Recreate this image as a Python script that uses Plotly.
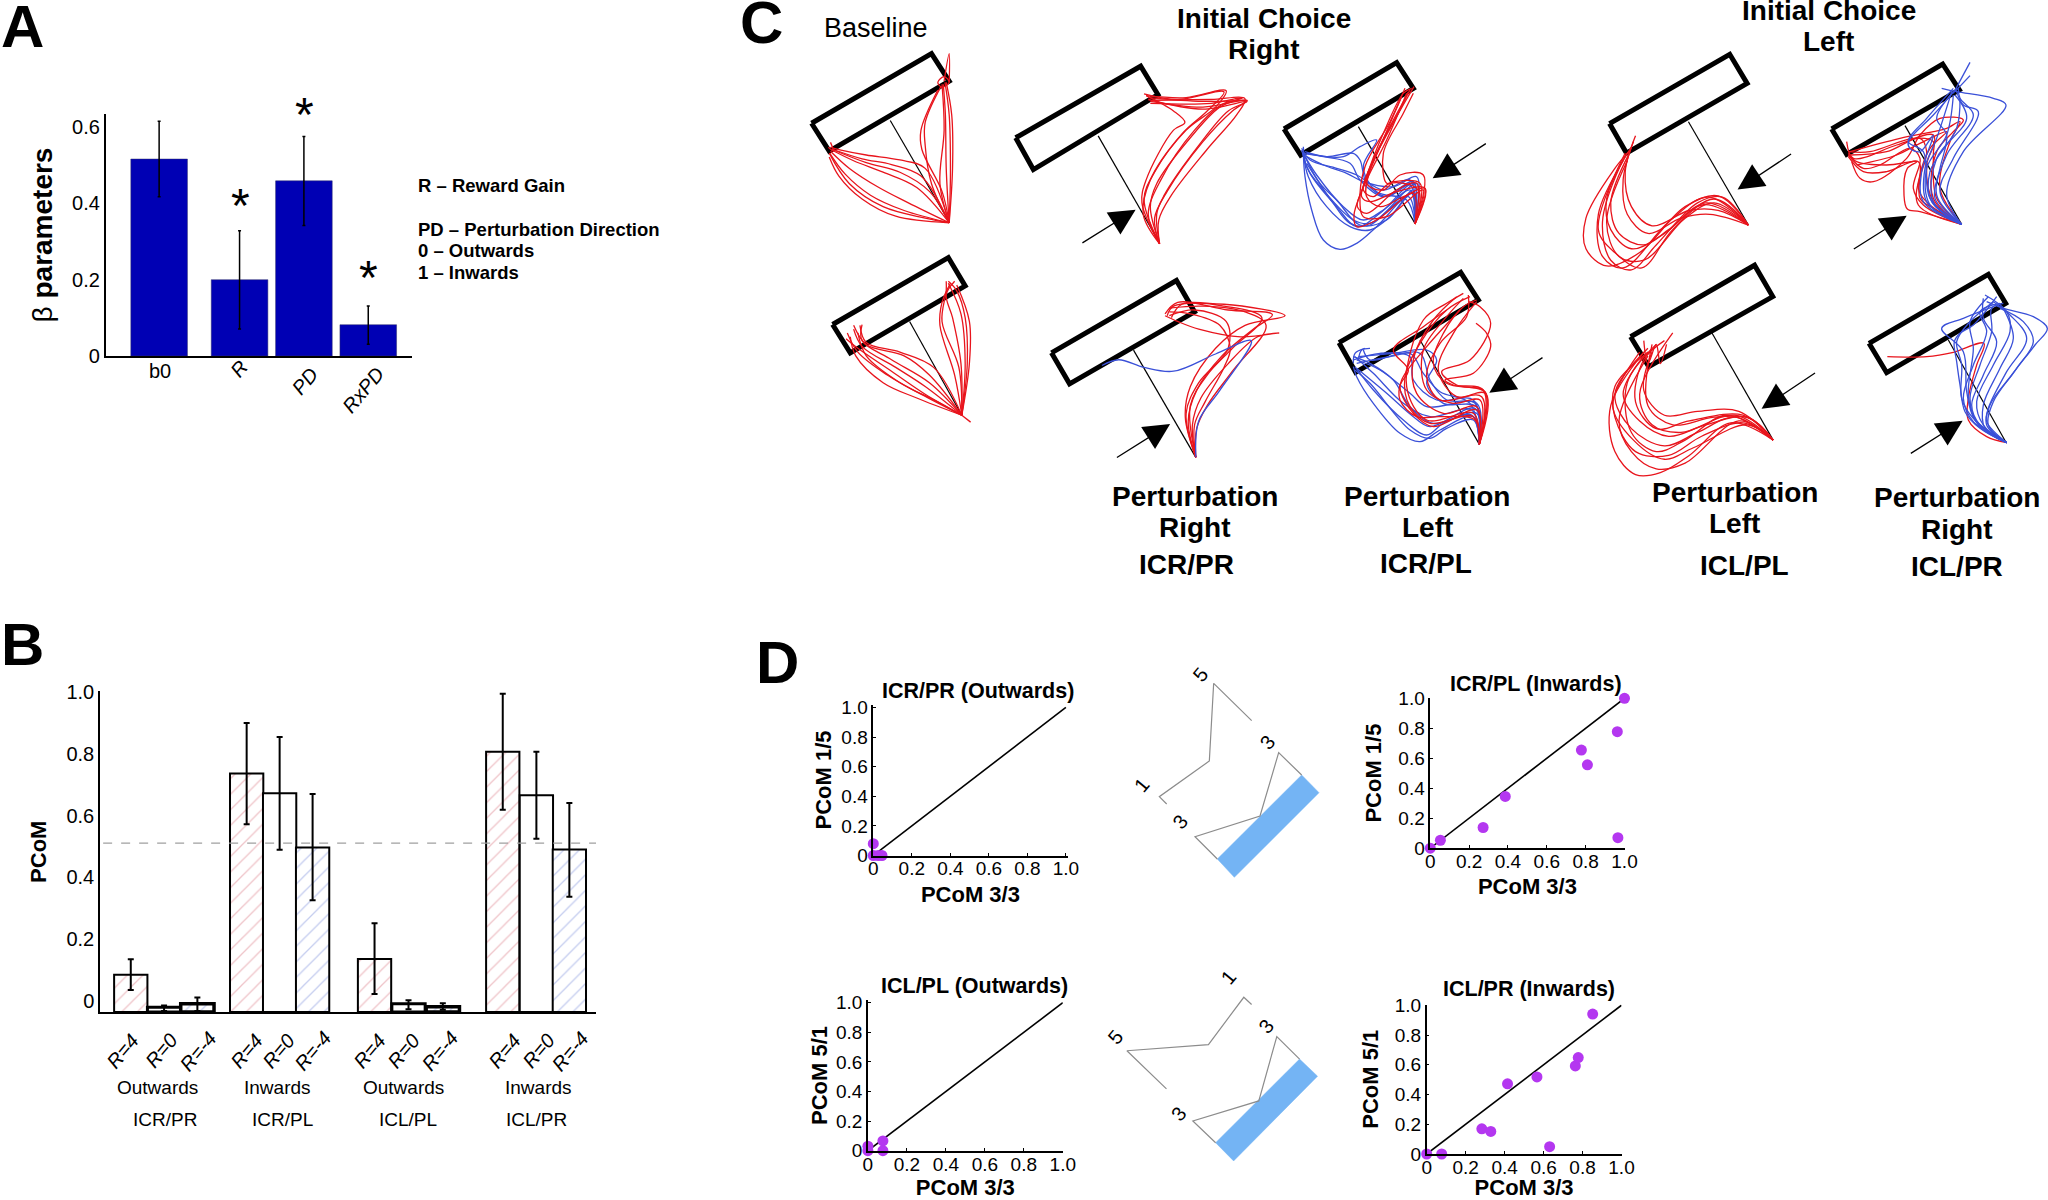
import plotly.graph_objects as go

W, H = 2048, 1200
FONT = "Liberation Sans"
RED = "#e8141c"
BLUE = "#3a50d8"

# ---------- Panel A ----------
a_cats = ["b0", "R", "PD", "RxPD"]
a_x = [0, 1.25, 2.25, 3.25]
a_vals = [0.516, 0.200, 0.459, 0.082]
a_upper = [0.615, 0.328, 0.575, 0.131]
a_lower = [0.417, 0.071, 0.342, 0.031]
a_star_x = [240, 304, 368]
a_star_y = [205, 114, 277]
a_ticks = [0, 0.2, 0.4, 0.6]
a_ticktext = ["0", "0.2", "0.4", "0.6"]

# ---------- Panel B ----------
b_x = [0, 1, 2, 3.48, 4.47, 5.46, 7.32, 8.34, 9.37, 11.17, 12.18, 13.17]
b_labels = ["R=4", "R=0", "R=-4"] * 4
b_vals = [0.121, 0.015, 0.027, 0.772, 0.708, 0.533, 0.172, 0.027, 0.017, 0.843, 0.702, 0.526]
b_upper = [0.171, 0.021, 0.047, 0.936, 0.890, 0.706, 0.287, 0.038, 0.028, 1.030, 0.843, 0.677]
b_lower = [0.071, 0.003, 0.003, 0.608, 0.525, 0.362, 0.058, 0.009, 0.007, 0.655, 0.561, 0.373]
b_threshold = 0.547
b_ticks = [0, 0.2, 0.4, 0.6, 0.8, 1.0]
b_ticktext = ["0", "0.2", "0.4", "0.6", "0.8", "1.0"]
b_groups = ["Outwards", "Inwards", "Outwards", "Inwards"]
b_group_x = [157.5, 277, 403, 538.6]
b_conds = ["ICR/PR", "ICR/PL", "ICL/PL", "ICL/PR"]
b_cond_x = [165, 282, 408, 536]

# ---------- Panel D ----------
d_ticks = [0, 0.2, 0.4, 0.6, 0.8, 1.0]
d_ticktext = ["0", "0.2", "0.4", "0.6", "0.8", "1.0"]
diag = [0, 1.0]
d1_x = [0, 0, 0.025, 0.045]
d1_y = [0.08, 0, 0, 0]
d2_x = [0, 0.052, 0.272, 0.386, 0.778, 0.809, 0.963, 1.0, 0.966]
d2_y = [0, 0.053, 0.138, 0.345, 0.655, 0.556, 0.777, 1.0, 0.07]
d3_x = [0, 0, 0.077, 0.077]
d3_y = [0.03, 0, 0.066, 0]
d4_x = [0, 0.077, 0.283, 0.329, 0.415, 0.566, 0.631, 0.763, 0.778, 0.852]
d4_y = [0, 0, 0.169, 0.152, 0.472, 0.518, 0.049, 0.592, 0.648, 0.941]

# ---------- Panel C traced trajectories ----------
# Each list holds traced paths; the coordinates are read in a crop of the picture.
base_top = [
    [(497,582),(500,450),(497,300),(487,215)], [(497,582),(505,440),(503,300),(490,215)],
    [(497,582),(490,440),(488,300),(483,220)], [(497,582),(480,500),(432,390),(430,340),(470,235)],
    [(497,582),(455,480),(440,380),(440,320),(478,225)], [(497,582),(475,480),(485,340),(480,220)],
    [(485,212),(497,140),(497,215)], [(470,215),(485,200),(497,215),(480,228),(470,215)],
    [(497,582),(440,440),(380,418),(300,405),(240,392),(215,385)], [(497,582),(430,460),(360,430),(290,415),(220,390)],
    [(497,582),(420,490),(340,450),(270,420),(218,392)], [(497,582),(400,530),(330,490),(260,440),(215,395)],
    [(497,582),(390,550),(310,510),(250,455),(213,400)], [(497,582),(370,565),(290,520),(235,460),(212,410)],
    [(497,582),(440,570),(340,540),(260,480),(212,400)], [(497,582),(450,500),(380,450),(300,425),(218,390)],
    [(215,372),(222,395),(210,385)],
]
base_bottom = [
    [(527,1085),(540,950),(535,830),(515,760),(495,735)], [(527,1085),(535,950),(525,820),(495,740)],
    [(527,1085),(520,960),(480,840),(490,760),(490,735)], [(527,1085),(510,980),(475,850),(480,790),(500,740)],
    [(527,1085),(545,950),(545,840),(515,745)], [(527,1085),(525,950),(505,830),(490,770),(510,735)],
    [(527,1085),(460,960),(380,920),(300,895),(285,850)], [(527,1085),(440,1010),(370,960),(290,905),(270,860)],
    [(527,1085),(430,1030),(350,980),(280,920),(255,870)], [(527,1085),(450,1000),(360,940),(290,890),(290,848)],
    [(527,1085),(420,1040),(340,1000),(275,930),(262,880)], [(527,1085),(470,1050),(380,1000),(300,930),(280,870)],
    [(527,1085),(450,980),(390,930),(300,900),(270,850)], [(527,1085),(440,1030),(360,970),(280,910),(252,885)],
    [(527,1085),(548,1103)],
]
icr_pr_top = [
    [(997,637),(955,530),(965,470),(1030,340),(1057,320),(1030,290),(965,250)],
    [(997,637),(960,520),(985,450),(1060,340),(1130,280),(1155,237),(1060,255),(965,250)],
    [(997,637),(970,560),(1000,470),(1080,340),(1150,270),(1205,262),(1100,265),(970,255)],
    [(997,637),(985,570),(1015,500),(1100,370),(1170,290),(1205,262),(1100,280),(975,265)],
    [(997,637),(995,575),(1025,510),(1110,390),(1180,300),(1200,258),(1120,260),(980,262)],
    [(997,637),(975,540),(990,480),(1070,360),(1140,280),(1195,255),(1120,270),(975,270)],
    [(997,637),(958,560),(975,470),(1050,350),(1110,290),(1150,240),(1040,260),(960,245)],
    [(997,637),(990,560),(1008,510),(1090,380),(1160,290),(1205,265),(1100,285),(970,260)],
]
icr_pr_bottom_red = [
    [(1083,1195),(1058,1090),(1070,1010),(1130,910),(1200,850),(1295,825),(1150,795),(1030,800),(1015,825)],
    [(1083,1195),(1065,1100),(1085,1020),(1145,930),(1220,860),(1265,822),(1160,810),(1040,790),(1010,820)],
    [(1083,1195),(1075,1110),(1095,1040),(1160,950),(1230,880),(1280,870),(1190,880),(1090,860),(1040,840),(1010,825)],
    [(1083,1195),(1080,1110),(1105,1050),(1150,960),(1165,910),(1140,850),(1070,820),(1020,815)],
    [(1083,1195),(1060,1080),(1090,1000),(1160,910),(1155,840),(1080,810),(1020,825)],
    [(1083,1195),(1085,1120),(1110,1060),(1170,970),(1250,850),(1200,815),(1100,800),(1020,805)],
    [(1083,1195),(1070,1060),(1110,980),(1170,910),(1240,830),(1150,800),(1050,795),(1025,830)],
]
icr_pr_bottom_blue = [
    [(1083,1195),(1090,1100),(1140,1020),(1215,890),(1130,925),(1030,970),(960,960),(900,940),(860,955)],
]
icr_pl_top_red = [
    [(435,522),(465,415),(380,425),(300,455),(275,440),(290,380),(340,250),(400,130),(425,115)],
    [(435,522),(445,420),(360,400),(310,440),(280,420),(310,330),(370,210),(420,120)],
    [(435,522),(460,375),(390,375),(340,420),(290,400),(330,290),(395,170),(415,125)],
    [(435,522),(440,400),(380,420),(290,490),(262,470),(290,390),(350,270),(410,130)],
    [(435,522),(465,415),(400,440),(330,470),(290,440),(300,360),(380,200),(432,110)],
    [(435,522),(450,400),(370,395),(350,400),(340,310),(400,190),(430,130)],
    [(435,522),(430,430),(320,510),(260,530),(252,495),(280,410),(330,290),(395,140)],
    [(435,522),(460,420),(350,500),(280,500),(270,460),(285,350),(360,215),(405,115)],
]
icr_pl_top_blue = [
    [(435,522),(425,430),(350,510),(270,525),(200,450),(150,400),(105,320)],
    [(435,522),(420,420),(340,480),(280,510),(220,470),(140,375),(100,310)],
    [(435,522),(430,400),(330,490),(260,530),(200,470),(120,370),(95,300)],
    [(435,522),(415,440),(300,520),(250,510),(160,420),(110,350),(100,290)],
    [(435,522),(440,380),(370,410),(280,395),(230,370),(160,345),(110,320)],
    [(435,522),(430,395),(340,440),(270,390),(240,340),(160,320),(100,310)],
    [(435,522),(420,405),(350,440),(290,400),(270,330),(250,310),(170,320),(105,305)],
    [(435,522),(410,450),(320,425),(280,350),(320,270),(270,290),(220,320),(110,310)],
    [(435,522),(425,430),(320,530),(260,580),(210,598),(160,570),(125,480),(105,380),(100,310)],
    [(435,522),(430,420),(360,500),(300,540),(240,530),(170,470),(115,380),(100,310)],
    [(435,522),(440,400),(300,525),(240,520),(190,460),(110,340)],
    [(435,522),(420,390),(340,420),(260,375),(200,355),(120,330),(95,295)],
]
icr_pl_bottom_red = [
    [(448,553),(468,400),(350,370),(310,310),(340,220),(400,140),(440,120)],
    [(448,553),(465,395),(380,375),(335,335),(420,300),(482,190),(450,140),(415,125)],
    [(448,553),(460,390),(370,375),(345,360),(430,340),(482,260),(470,220),(438,190)],
    [(448,553),(440,450),(310,500),(250,460),(210,380),(235,330),(190,270),(280,200),(350,150)],
    [(448,553),(430,470),(300,490),(240,440),(225,350),(270,250),(350,150),(420,110)],
    [(448,553),(440,440),(340,460),(260,400),(250,300),(310,180),(380,110)],
    [(448,553),(450,420),(370,430),(290,390),(280,270),(350,170),(400,115)],
    [(448,553),(435,480),(330,470),(260,470),(210,420),(215,360),(290,260),(390,150)],
    [(448,553),(455,410),(330,420),(290,350),(330,250),(410,170),(415,105)],
    [(448,553),(465,400),(380,410),(325,330),(370,220),(440,125)],
    [(448,553),(430,460),(290,480),(230,380),(280,180),(350,130),(400,100)],
]
icr_pl_bottom_blue = [
    [(448,553),(430,470),(330,510),(270,545),(210,520),(130,430),(80,350),(70,320)],
    [(448,553),(425,465),(340,490),(290,525),(220,480),(130,390),(75,320)],
    [(448,553),(435,445),(300,500),(250,470),(170,400),(80,325)],
    [(448,553),(440,430),(290,440),(240,400),(150,330),(80,300)],
    [(448,553),(430,420),(320,420),(250,360),(240,290),(150,280),(70,300)],
    [(448,553),(440,440),(340,430),(290,370),(320,300),(290,270),(190,280),(85,290)],
    [(448,553),(425,450),(300,470),(220,430),(130,340),(75,290)],
    [(448,553),(420,430),(330,395),(280,340),(240,280),(120,300),(100,270)],
    [(448,553),(435,430),(350,420),(300,360),(270,280),(180,290),(80,310)],
    [(448,553),(430,480),(350,505),(300,535),(240,510),(120,370),(75,330)],
    [(448,553),(440,460),(310,490),(240,440),(190,360),(120,310),(70,290)],
    [(70,310),(75,280),(105,265)], [(85,300),(95,270),(120,265)],
]
icl_pr_top_red = [
    [(425,508),(300,470),(262,462),(252,420),(262,340),(290,320),(200,330),(110,320),(85,295)],
    [(425,508),(310,450),(280,400),(300,310),(270,280),(180,330),(130,340),(85,300)],
    [(425,508),(330,450),(295,400),(320,290),(300,250),(200,290),(90,300)],
    [(425,508),(340,440),(320,330),(340,260),(280,250),(150,290),(85,290)],
    [(425,508),(350,430),(340,300),(340,240),(230,270),(100,310),(80,260)],
    [(425,508),(360,400),(390,260),(420,200),(380,220),(340,230),(240,250),(90,290)],
    [(425,508),(340,430),(350,290),(400,230),(430,195),(360,190),(300,240),(260,310),(160,380),(120,370),(95,320)],
    [(425,508),(295,450),(300,360),(330,280),(380,230),(290,270),(230,300),(110,330)],
    [(425,508),(340,460),(300,430),(295,320),(200,350),(130,350),(85,305)],
]
icl_pr_top_blue = [
    [(425,508),(380,420),(430,290),(558,150),(520,130),(410,110),(365,100)],
    [(425,508),(360,410),(400,310),(475,170),(430,150),(410,110)],
    [(425,508),(350,420),(380,300),(460,180),(420,130),(415,100)],
    [(425,508),(340,440),(350,310),(440,190),(405,120)],
    [(425,508),(330,450),(320,340),(380,240),(400,120)],
    [(425,508),(320,440),(315,340),(350,250),(395,110)],
    [(425,508),(310,440),(305,350),(340,240),(300,290),(270,280),(265,260),(340,180),(410,100)],
    [(425,508),(335,440),(330,350),(410,220),(420,130)],
    [(425,508),(345,430),(360,340),(380,240),(350,190),(400,110)],
    [(425,508),(330,430),(310,290),(265,260),(320,190),(400,100)],
    [(400,115),(450,22)], [(405,110),(450,62)],
]
icl_pr_bottom_red = [
    [(440,533),(380,515),(325,465),(325,400),(350,300),(372,235),(280,262),(200,275),(82,275)],
]
icl_pr_bottom_blue = [
    [(440,533),(380,480),(390,420),(455,330),(525,240),(562,190),(520,155),(430,130),(380,110)],
    [(440,533),(385,480),(400,410),(470,310),(520,230),(490,170),(420,130)],
    [(440,533),(380,470),(385,430),(440,320),(500,220),(450,150),(400,110)],
    [(440,533),(360,480),(335,420),(370,330),(410,230),(370,160),(370,100)],
    [(440,533),(340,470),(310,400),(340,300),(380,200),(360,140),(420,115)],
    [(440,533),(340,460),(305,400),(305,300),(290,230),(330,170),(400,110)],
    [(440,533),(350,470),(325,390),(340,250),(330,170),(385,95)],
    [(440,533),(345,465),(320,380),(310,260),(245,190),(310,160),(400,125)],
    [(440,533),(370,480),(350,410),(400,300),(450,200),(440,140),(375,90)],
    [(440,533),(355,480),(330,400),(360,300),(395,200),(395,130),(430,115)],
    [(440,533),(375,490),(370,420),(420,310),(460,220),(430,130)],
    [(440,533),(360,490),(315,440),(300,360),(290,290),(283,230),(300,205),(340,180),(410,95)],
]
icl_pl_top = [
    [(843,588),(770,512),(690,540),(580,660),(500,695),(450,650),(450,570),(520,440),(555,395)],
    [(843,588),(745,515),(650,580),(540,700),(490,670),(480,560),(540,420)],
    [(843,588),(780,515),(720,530),(620,640),(560,705),(510,680),(490,580),(530,440),(560,385)],
    [(843,588),(760,530),(690,570),(590,680),(530,670),(500,580),(550,420)],
    [(843,588),(735,535),(650,600),(590,640),(530,610),(510,530),(555,400)],
    [(843,588),(750,560),(680,570),(600,610),(550,560),(540,470),(565,370)],
    [(843,588),(770,550),(700,550),(610,590),(560,540),(545,450),(570,355)],
    [(843,588),(740,530),(640,610),(560,650),(510,600),(500,520),(550,400)],
    [(843,588),(760,520),(660,600),(585,700),(520,660),(480,600),(545,400)],
]
icl_pl_bottom = [
    [(903,1150),(820,1075),(720,1075),(640,1085),(590,1020),(610,920)],
    [(903,1150),(830,1085),(700,1100),(620,1120),(570,1050),(590,940),(640,890)],
    [(903,1150),(840,1090),(740,1110),(650,1140),(580,1100),(540,1030),(590,930)],
    [(903,1150),(810,1090),(720,1130),(640,1165),(560,1120),(520,1030),(600,910)],
    [(903,1150),(830,1105),(730,1140),(650,1190),(570,1180),(520,1090),(520,1010),(600,920)],
    [(903,1150),(800,1105),(700,1190),(630,1235),(570,1240),(520,1180),(510,1060),(590,920)],
    [(903,1150),(820,1100),(690,1210),(620,1225),(560,1180),(530,1100),(600,930)],
    [(903,1150),(810,1085),(680,1130),(610,1110),(580,1030),(660,870)],
    [(903,1150),(850,1095),(760,1090),(660,1110),(600,1060),(610,900)],
    [(903,1150),(790,1085),(690,1150),(620,1180),(560,1130),(550,1000),(620,900)],
    [(903,1150),(840,1110),(710,1170),(640,1200),(565,1150),(515,1060),(580,920)],
    [(590,890),(600,950),(620,900),(630,950),(645,900)],
]

# crop readers: (left, top, x scale, y scale)
C3 = (740, 0, 2.376, 2.613)
C4 = (1400, 0, 2.42, 2.613)
Z5 = (760, 630, 1.668, 2.75)
Z6 = (1270, 50, 3, 3)
Z7 = (1330, 260, 3, 3)
Z8 = (1820, 55, 3, 3)
Z9 = (1860, 265, 3, 3)
Z10 = (1110, 650, 3, 3)

# workspace frames: box corners + stem
frames = [
    (C3, [(170,322),(455,140),(497,212),(212,395)], [(357,315),(497,580)]),
    (C3, [(220,848),(495,673),(535,747),(262,922)], [(403,840),(527,1085)]),
    (C3, [(655,360),(952,173),(993,247),(697,443)], [(851,355),(997,635)]),
    (C3, [(740,922),(1037,733),(1080,815),(783,1003)], [(935,915),(1083,1195)]),
    (Z6, [(42,237),(380,38),(430,115),(92,315)], [(265,230),(435,520)]),
    (Z7, [(27,248),(392,37),(445,120),(77,337)], [(270,240),(448,553)]),
    (C4, [(507,323),(798,142),(840,218),(548,400)], [(698,318),(843,588)]),
    (C4, [(558,880),(858,693),(902,775),(602,958)], [(755,870),(903,1150)]),
    (Z8, [(35,222),(368,27),(418,105),(80,298)], [(255,212),(425,508)]),
    (Z9, [(27,235),(385,28),(437,115),(80,323)], [(265,225),(437,530)]),
]
# arrows: tail, tip
arrows = [
    (C3, (810,637), (940,548)), (C3, (892,1198), (1022,1108)),
    (Z6, (652,278), (488,385)), (Z7, (642,290), (478,398)),
    (C4, (950,400), (817,495)), (C4, (1008,972), (875,1068)),
    (Z8, (97,585), (260,482)), (Z9, (148,568), (308,467)),
]
traces_c = [
    (C3, base_top, RED), (C3, base_bottom, RED), (C3, icr_pr_top, RED),
    (C3, icr_pr_bottom_red, RED), (C3, icr_pr_bottom_blue, BLUE),
    (Z6, icr_pl_top_blue, BLUE), (Z6, icr_pl_top_red, RED),
    (Z7, icr_pl_bottom_blue, BLUE), (Z7, icr_pl_bottom_red, RED),
    (C4, icl_pl_top, RED), (C4, icl_pl_bottom, RED),
    (Z8, icl_pr_top_red, RED), (Z8, icl_pr_top_blue, BLUE),
    (Z9, icl_pr_bottom_red, RED), (Z9, icl_pr_bottom_blue, BLUE),
]
# panel D schematics
schem_blue = [
    (Z10, [(575,375),(627,428),(373,682),(322,627)]),
    (Z5, [(900,1180),(930,1227),(790,1460),(760,1410)]),
]
schem_lines = [
    (Z10, [(425,212),(311,100),(298,333),(148,440),(170,462)]),
    (Z10, [(575,375),(506,308),(450,498),(255,560),(322,627)]),
    (Z5, [(820,1030),(807,1010),(748,1140),(612,1157),(678,1262)]),
    (Z5, [(900,1180),(862,1118),(832,1295),(722,1350),(760,1410)]),
]
schem_digits = [
    (Z10, "5", 270, 75), (Z10, "3", 473, 277), (Z10, "1", 95, 405), (Z10, "3", 210, 517),
    (Z5, "1", 782, 955), (Z5, "5", 593, 1120), (Z5, "3", 845, 1090), (Z5, "3", 698, 1330),
]


def cv(crop, p):
    return crop[0] + p[0] / crop[2], crop[1] + p[1] / crop[3]


fig = go.Figure()


def px(x, y, **kw):
    fig.add_trace(go.Scatter(x=x, y=y, xaxis="x", yaxis="y", hoverinfo="skip", **kw))


# frames, stems
for crop, corners, stem in frames:
    pts = [cv(crop, p) for p in corners + corners[:1]]
    px([p[0] for p in pts], [p[1] for p in pts], mode="lines", line=dict(color="black", width=5))
    st = [cv(crop, p) for p in stem]
    px([p[0] for p in st], [p[1] for p in st], mode="lines", line=dict(color="black", width=1.2))
# trajectories
for crop, paths, col in traces_c:
    for path in paths:
        pts = [cv(crop, p) for p in path]
        px([p[0] for p in pts], [p[1] for p in pts], mode="lines",
           line=dict(color=col, width=1.3, shape="spline", smoothing=1.0))
# schematics
for crop, poly in schem_blue:
    pts = [cv(crop, p) for p in poly + poly[:1]]
    px([p[0] for p in pts], [p[1] for p in pts], mode="lines", fill="toself",
       fillcolor="#74b4f4", line=dict(color="#74b4f4", width=0.5))
for crop, poly in schem_lines:
    pts = [cv(crop, p) for p in poly]
    px([p[0] for p in pts], [p[1] for p in pts], mode="lines", line=dict(color="#8c8c8c", width=1.2))

# Panel A bars
fig.add_trace(go.Bar(
    x=a_x, y=a_vals, width=0.88, xaxis="x2", yaxis="y2",
    marker=dict(color="#0000b4", line=dict(color="#30306a", width=0.5)),
    error_y=dict(type="data", symmetric=False,
                 array=[u - v for u, v in zip(a_upper, a_vals)],
                 arrayminus=[v - l for v, l in zip(a_vals, a_lower)],
                 color="black", thickness=1.5, width=1.5),
))
# Panel B bars
b_shape = ["/", "", "/"] * 4
b_fg = ["#e08a94", "#ffffff", "#8c9be0"] * 4
b_lw = [2, 3, 3.5, 2, 2, 2, 2, 3, 3.5, 2, 2, 2]
fig.add_trace(go.Bar(
    x=b_x, y=b_vals, width=1.0, xaxis="x3", yaxis="y3",
    marker=dict(color="white", line=dict(color="black", width=b_lw),
                pattern=dict(shape=b_shape, fgcolor=b_fg, bgcolor="white", size=11, solidity=0.12)),
    error_y=dict(type="data", symmetric=False,
                 array=[u - v for u, v in zip(b_upper, b_vals)],
                 arrayminus=[v - l for v, l in zip(b_vals, b_lower)],
                 color="black", thickness=2, width=3),
))
fig.add_trace(go.Scatter(x=[-0.83, 13.99], y=[b_threshold, b_threshold], xaxis="x3", yaxis="y3",
                         mode="lines", line=dict(color="#a0a0a0", width=1.3, dash="dash"), hoverinfo="skip"))

# Panel D scatters
PURPLE = "#b437f0"
for ax, xs, ys in [("4", d1_x, d1_y), ("5", d2_x, d2_y), ("6", d3_x, d3_y), ("7", d4_x, d4_y)]:
    fig.add_trace(go.Scatter(x=diag, y=diag, xaxis="x" + ax, yaxis="y" + ax, mode="lines",
                             line=dict(color="black", width=1.6), cliponaxis=False, hoverinfo="skip"))
    fig.add_trace(go.Scatter(x=xs, y=ys, xaxis="x" + ax, yaxis="y" + ax, mode="markers",
                             marker=dict(color=PURPLE, size=11), cliponaxis=False))


def dom(x0, x1, yt, yb):
    return [x0 / W, x1 / W], [1 - yb / H, 1 - yt / H]


layout = dict(
    width=W, height=H, margin=dict(l=0, r=0, t=0, b=0, autoexpand=False), showlegend=False,
    paper_bgcolor="white", plot_bgcolor="rgba(0,0,0,0)",
    font=dict(family=FONT, color="black", size=20), barmode="overlay",
    xaxis=dict(domain=[0, 1], range=[0, W], visible=False, fixedrange=True),
    yaxis=dict(domain=[0, 1], range=[H, 0], visible=False, fixedrange=True),
)


def set_axes(i, box, xr, yr, yticks=None, yttext=None, xticks=None, xttext=None,
             ytitle=None, ysize=22, ystand=10, xtitle=None, xstand=4, shift=None, d=False):
    dx, dy = dom(*box)
    xa = dict(domain=dx, range=xr, anchor=f"y{i}", showgrid=False, zeroline=False, showline=True,
              linecolor="black", linewidth=2, fixedrange=True,
              tickfont=dict(size=19 if d else 20), ticks="inside" if d else "",
              ticklen=3, tickcolor="black")
    if d:
        xa["ticklabelstandoff"] = -5
    if xticks is not None:
        xa.update(tickmode="array", tickvals=xticks, ticktext=xttext)
    else:
        xa.update(showticklabels=False)
    if xtitle:
        xa["title"] = dict(text=xtitle, standoff=xstand, font=dict(size=22))
    ya = dict(domain=dy, range=yr, anchor=f"x{i}", showgrid=False, zeroline=False, showline=True,
              linecolor="black", linewidth=1.5, fixedrange=True, tickmode="array",
              tickvals=yticks, ticktext=yttext, tickfont=dict(size=19 if d else 20),
              ticks="inside" if d else "", ticklen=3, tickcolor="black")
    if ytitle:
        ya["title"] = dict(text=ytitle, standoff=ystand, font=dict(size=ysize))
    if shift:
        ya["ticklabelshift"] = shift
    layout[f"xaxis{i}"] = xa
    layout[f"yaxis{i}"] = ya


set_axes(2, (105.6, 412, 114, 356), [-0.832, 3.93], [0, 0.634], a_ticks, a_ticktext,
         ytitle="β <b>parameters</b>", ysize=28, ystand=11)
set_axes(3, (100, 596, 691.4, 1012), [-0.924, 13.97], [0, 1.038], b_ticks, b_ticktext,
         ytitle="<b>PCoM</b>", ysize=22, ystand=14, shift=-11)
set_axes(4, (873.3, 1067.6, 704.5, 855.5), [0, 1.009], [0, 1.02], d_ticks, d_ticktext, d_ticks, d_ticktext,
         ytitle="<b>PCoM 1/5</b>", ystand=4, xtitle="<b>PCoM 3/3</b>", xstand=8, d=True)
set_axes(5, (1430.3, 1624.5, 698, 848.2), [0, 1.0], [0, 1.002], d_ticks, d_ticktext, d_ticks, d_ticktext,
         ytitle="<b>PCoM 1/5</b>", ystand=11, xtitle="<b>PCoM 3/3</b>", xstand=8, d=True)
set_axes(6, (867.9, 1062.8, 1000.2, 1150.7), [0, 1.0], [0, 1.017], d_ticks, d_ticktext, d_ticks, d_ticktext,
         ytitle="<b>PCoM 5/1</b>", ystand=2, xtitle="<b>PCoM 3/3</b>", xstand=15, d=True)
set_axes(7, (1426.7, 1621.5, 1004.5, 1154), [0, 1.0], [0, 1.005], d_ticks, d_ticktext, d_ticks, d_ticktext,
         ytitle="<b>PCoM 5/1</b>", ystand=10, xtitle="<b>PCoM 3/3</b>", xstand=13, d=True)

ann = []


def text(t, x, y, size, bold=False, angle=0, align="center", xanchor="center"):
    ann.append(dict(text=f"<b>{t}</b>" if bold else t, x=x, y=y, xref="x", yref="y", showarrow=False,
                    font=dict(size=size, family=FONT, color="black"), textangle=angle,
                    xanchor=xanchor, yanchor="middle", align=align))


# panel letters
for t, x, y in [("A", 22, 26), ("B", 22, 644), ("C", 761, 22), ("D", 777, 662)]:
    text(t, x, y, 60, bold=True)
# panel A text
text("b0", 160, 371, 20)
text("<i>R</i>", 239, 369, 20, angle=-50)
text("<i>PD</i>", 305, 381, 20, angle=-50)
text("<i>RxPD</i>", 363, 390, 20, angle=-50)
text("R – Reward Gain", 416, 185, 18.5, bold=True, xanchor="left")
text("PD – Perturbation Direction", 416, 229, 18.5, bold=True, xanchor="left")
text("0 – Outwards", 416, 250, 18.5, bold=True, xanchor="left")
text("1 – Inwards", 416, 272, 18.5, bold=True, xanchor="left")
# stars
for sx, sy in zip(a_star_x, a_star_y):
    text("*", sx, sy, 48)
# panel B labels
b_label_dx = [-8, -3, 1, 0, -1, 0, -5, -5, -3, 2, 2, 1]
for lx, lab, dxp in zip(b_x, b_labels, b_label_dx):
    ann.append(dict(text=f"<i>{lab}</i>", x=lx, y=1 - 1051 / H, xref="x3", yref="paper", showarrow=False,
                    xshift=dxp, font=dict(size=20, family=FONT, color="black"), textangle=-50,
                    xanchor="center", yanchor="middle"))
for t, x in zip(b_groups, b_group_x):
    text(t, x, 1087, 19)
for t, x in zip(b_conds, b_cond_x):
    text(t, x, 1119, 19)
# panel C titles
text("Baseline", 876, 27.5, 27)
text("Initial Choice", 1264, 18, 28, bold=True)
text("Right", 1264, 49, 28, bold=True)
text("Initial Choice", 1828.5, 10, 28, bold=True)
text("Left", 1828.5, 41, 28, bold=True)
text("Perturbation", 1194.5, 496, 28, bold=True)
text("Right", 1194.5, 527, 28, bold=True)
text("ICR/PR", 1186, 564.5, 28, bold=True)
text("Perturbation", 1427, 496, 28, bold=True)
text("Left", 1427, 527, 28, bold=True)
text("ICR/PL", 1426, 563, 28, bold=True)
text("Perturbation", 1734.7, 492.5, 28, bold=True)
text("Left", 1734.7, 523, 28, bold=True)
text("ICL/PL", 1744, 565, 28, bold=True)
text("Perturbation", 1956.6, 497.5, 28, bold=True)
text("Right", 1956.6, 529, 28, bold=True)
text("ICL/PR", 1956.6, 566, 28, bold=True)
# panel D titles
text("ICR/PR (Outwards)", 977.6, 691, 21.5, bold=True)
text("ICR/PL (Inwards)", 1536.4, 683.8, 21.5, bold=True)
text("ICL/PL (Outwards)", 974.6, 986.4, 21.5, bold=True)
text("ICL/PR (Inwards)", 1528.6, 989.3, 21.5, bold=True)
for crop, d, zx, zy in schem_digits:
    x, y = cv(crop, (zx, zy))
    text(d, x, y, 20, angle=-50)
# arrows
for crop, tail, tip in arrows:
    tx, ty = cv(crop, tail)
    hx, hy = cv(crop, tip)
    ann.append(dict(text="", x=hx, y=hy, ax=tx, ay=ty, xref="x", yref="y", axref="x", ayref="y",
                    showarrow=True, arrowhead=2, arrowsize=4, arrowwidth=1.3, arrowcolor="black"))

layout["annotations"] = ann
fig.update_layout(**layout)
fig.write_html("out.html", config={"displayModeBar": False},
               post_script="document.body.style.margin='0';document.documentElement.style.overflow='hidden';")
